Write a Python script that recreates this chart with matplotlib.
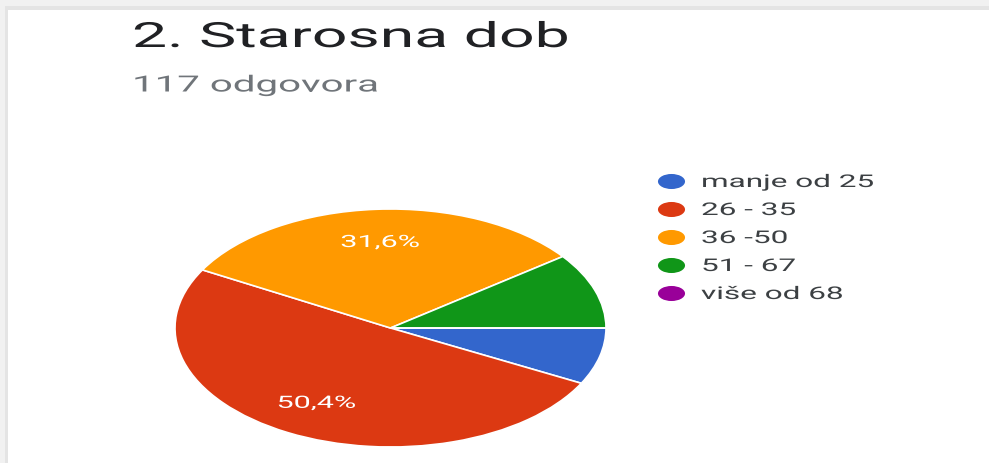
import numpy as np
import matplotlib
matplotlib.use('Agg')
import matplotlib.pyplot as plt
from matplotlib.patches import Rectangle
from matplotlib.path import Path
from matplotlib.patheffects import AbstractPathEffect
from matplotlib.transforms import Affine2D

# Survey data
title = '2. Starosna dob'
subtitle = '117 odgovora'
age_groups = ['manje od 25', '26 - 35', '36 -50', '51 - 67', 'više od 68']
counts = [9, 59, 37, 12, 0]
colors = ['#3366cc', '#dc3912', '#ff9900', '#109618', '#990099']

# the screenshot is stretched sideways, so text gets stretched too
SX = 1.8


class Stretch(AbstractPathEffect):
    def __init__(self, sx=SX, anchor='left'):
        super().__init__()
        self.sx = sx
        self.anchor = anchor

    def draw_path(self, renderer, gc, tpath, affine, rgbFace=None):
        x0 = 0.0
        if self.anchor == 'center':
            ext = tpath.get_extents()
            x0 = (ext.x0 + ext.x1) / 2
        st = Affine2D().translate(-x0, 0).scale(self.sx, 1).translate(x0, 0)
        renderer.draw_path(gc, tpath, st + affine, rgbFace)


plt.rcParams['font.family'] = ['Roboto', 'DejaVu Sans']
W, H = 989, 464
fig = plt.figure(figsize=(W / 100, H / 100), dpi=100, facecolor='#f1f1f1')

# page background, card shadow and white card
bg = fig.add_axes([0, 0, 1, 1])
bg.set_xlim(0, W)
bg.set_ylim(H, 0)
bg.axis('off')
bg.add_patch(Rectangle((5, 7), W, H, facecolor='#e4e4e4', edgecolor='none'))
bg.add_patch(Rectangle((8, 11), W, H, facecolor='white', edgecolor='none'))

bg.text(132, 48, title, fontsize=25, color='#202124', va='baseline',
        path_effects=[Stretch()])
bg.text(132, 92.5, subtitle, fontsize=16.1, color='#70757a', va='baseline',
        path_effects=[Stretch()])

# legend
ell = Path.unit_circle().transformed(Affine2D().scale(1.8, 1))
for i, (lab, col) in enumerate(zip(age_groups, colors)):
    y = 182 + 28 * i
    bg.scatter([671], [y], s=380, marker=ell, color=col, linewidths=0)
    bg.text(701, y, lab, fontsize=12.6, color='#3c4043', va='center_baseline',
            path_effects=[Stretch()])

# pie
ax = fig.add_axes([175 / W, 16 / H, 431 / W, 238 / H])
wedges, labels, pcts = ax.pie(
    counts, colors=colors, startangle=0, counterclock=False,
    autopct=lambda p: f'{p:.1f}%'.replace('.', ',') if p > 15 else '',
    pctdistance=0.72,
    wedgeprops=dict(edgecolor='white', linewidth=1.2))
for t in pcts:
    t.set_color('white')
    t.set_fontsize(12.2)
    t.set_path_effects([Stretch(anchor='center')])
ax.set_aspect('auto')
ax.set_xlim(-1, 1)
ax.set_ylim(-1, 1)

fig.savefig('out.png', dpi=100, facecolor=fig.get_facecolor())
